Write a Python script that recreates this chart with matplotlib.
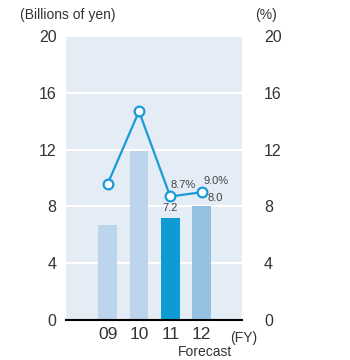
import matplotlib
matplotlib.use("Agg")
import matplotlib.pyplot as plt

plt.rcParams['font.family'] = ['Liberation Sans', 'DejaVu Sans']

# Fiscal years and values
years = ["09", "10", "11", "12"]
amount = [6.7, 11.9, 7.2, 8.0]          # billions of yen
ratio = [9.6, 14.7, 8.7, 9.0]           # percent
bar_colors = ["#bdd5ec", "#bdd5ec", "#0e9ad3", "#95c1e3"]
bar_labels = {2: "7.2", 3: "8.0"}
ratio_labels = {2: "8.7%", 3: "9.0%"}
yticks = [0, 4, 8, 12, 16, 20]

txt = "#333333"
fig = plt.figure(figsize=(3.5, 3.6), dpi=100)
ax = fig.add_axes([0.189, 0.111, 0.502, 0.789])
ax.set_facecolor("#e4ecf6")

x = list(range(len(years)))
ax.bar(x, amount, width=0.6, color=bar_colors, zorder=2)
# value labels: 7.2 sits over its bar, 8.0 is nudged right of the marker
ax.text(2, amount[2] + 0.35, bar_labels[2], ha="center", va="bottom", fontsize=8, color="#444444")
ax.text(3.44, amount[3] + 0.25, bar_labels[3], ha="center", va="bottom", fontsize=8, color="#444444")

ax.plot(x, ratio, color="#1a9ad6", lw=1.6, marker="o", ms=7,
        mfc="white", mec="#1a9ad6", mew=1.6, zorder=4)
ax.text(2.0, ratio[2] + 0.45, ratio_labels[2], ha="left", va="bottom", fontsize=8, color="#444444")
ax.text(3.05, ratio[3] + 0.45, ratio_labels[3], ha="left", va="bottom", fontsize=8, color="#444444")

ax.set_xlim(-1.33, 4.29)
ax.set_ylim(0, 20)
ax.set_yticks(yticks)
ax.yaxis.grid(True, color="white", lw=1.5, zorder=1)
ax.set_axisbelow(True)
for sp in ["top", "right", "left"]:
    ax.spines[sp].set_visible(False)
ax.spines["bottom"].set_color("black")
ax.spines["bottom"].set_linewidth(1.5)
ax.spines["bottom"].set_zorder(5)
ax.tick_params(axis="y", length=0, labelsize=11.5, labelcolor=txt, pad=7)
ax.set_xticks(x)
ax.set_xticklabels(years)
ax.tick_params(axis="x", length=0, labelsize=12.5, labelcolor=txt, pad=5)

# right-hand percent axis
ax2 = ax.twinx()
ax2.set_ylim(0, 20)
ax2.set_yticks(yticks)
ax2.tick_params(axis="y", length=0, labelsize=11.5, labelcolor=txt, pad=16)
for sp in ax2.spines.values():
    sp.set_visible(False)

fig.text(0.057, 0.958, "(Billions of yen)", fontsize=10, color=txt, va="center")
fig.text(0.729, 0.958, "(%)", fontsize=10, color=txt, va="center")
fig.text(0.657, 0.061, "(FY)", fontsize=10, color=txt, va="center")
fig.text(0.586, 0.022, "Forecast", fontsize=10, color=txt, va="center", ha="center")

fig.savefig("out.png", dpi=100)
